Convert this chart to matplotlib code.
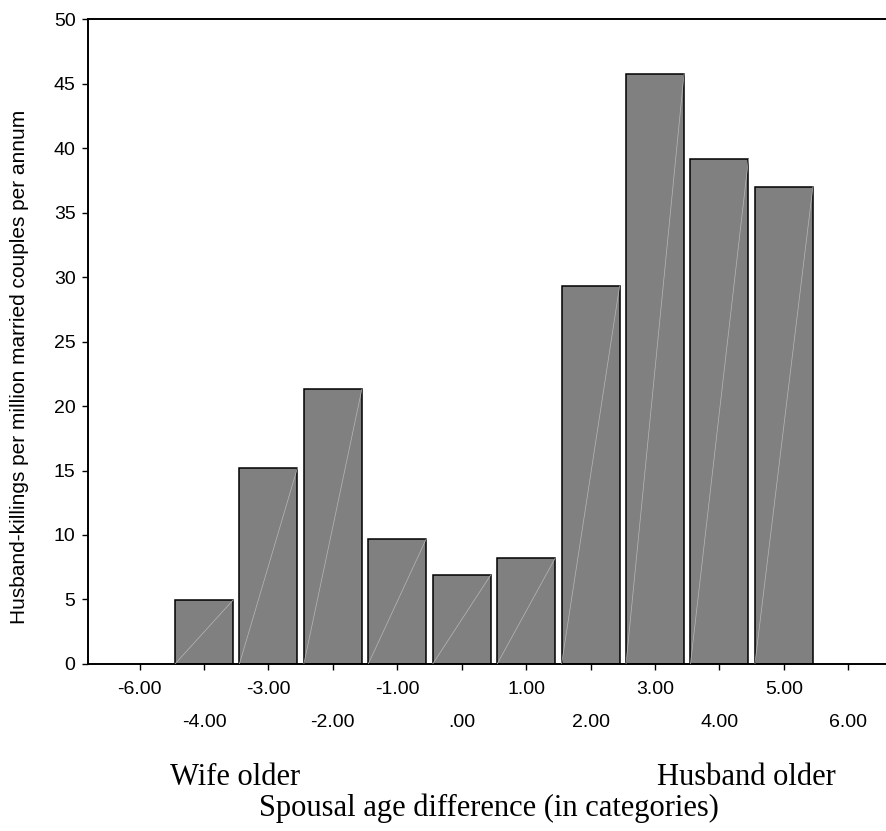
import numpy as np
import matplotlib
matplotlib.use("Agg")
import matplotlib.pyplot as plt

# categories shown on the axis (SPSS style, -5 category absent)
categorias = ["-6.00", "-4.00", "-3.00", "-2.00", "-1.00", ".00",
              "1.00", "2.00", "3.00", "4.00", "5.00", "6.00"]
# husband-killings per million married couples per annum (None = no bar)
tasas = [None, 4.95, 15.2, 21.3, 9.7, 6.9, 8.2, 29.3, 45.75, 39.15, 37.0, None]

plt.rcParams["font.family"] = ["Liberation Sans", "DejaVu Sans"]

fig = plt.figure(figsize=(8.87, 8.31), dpi=100)
ax = fig.add_axes([0.0992, 0.201, 0.9008, 0.776])

ancho = 0.9
pos = np.arange(len(categorias))
for i, v in zip(pos, tasas):
    if v is None:
        continue
    ax.bar(i, v, width=ancho, color="#808080", edgecolor="black", linewidth=1.1, zorder=2)
    # faint diagonal artefact from the original export
    ax.plot([i - ancho / 2, i + ancho / 2], [0, v], color="#b8b8b8", lw=0.5, zorder=3)

ax.set_xlim(-0.8, 11.6)
ax.set_ylim(0, 50)
ax.set_yticks(np.arange(0, 51, 5))
ax.tick_params(axis="y", labelsize=14, length=4, width=1, direction="out", pad=5)

# staggered tick labels: even positions on top row, odd on lower row
ax.set_xticks(pos[0::2])
ax.set_xticklabels(categorias[0::2])
ax.set_xticks(pos[1::2], minor=True)
ax.set_xticklabels(categorias[1::2], minor=True)
ax.tick_params(axis="x", which="major", labelsize=14, length=4, width=1, pad=8)
ax.tick_params(axis="x", which="minor", labelsize=14, length=4, width=1, pad=32)

for s in ["left", "bottom", "top"]:
    ax.spines[s].set_linewidth(1.4)
ax.spines["right"].set_visible(False)

fig.text(0.0225, 0.558, "Husband-killings per million married couples per annum",
         fontsize=15, rotation=90, ha="center", va="center")

serif = ["Liberation Serif", "DejaVu Serif"]
fig.text(0.2655, 0.064, "Wife older", family=serif, fontsize=22, ha="center", va="center")
fig.text(0.841, 0.064, "Husband older", family=serif, fontsize=22, ha="center", va="center")
fig.text(0.551, 0.0277, "Spousal age difference (in categories)", family=serif, fontsize=22,
         ha="center", va="center")

fig.savefig("out.png", dpi=100)
